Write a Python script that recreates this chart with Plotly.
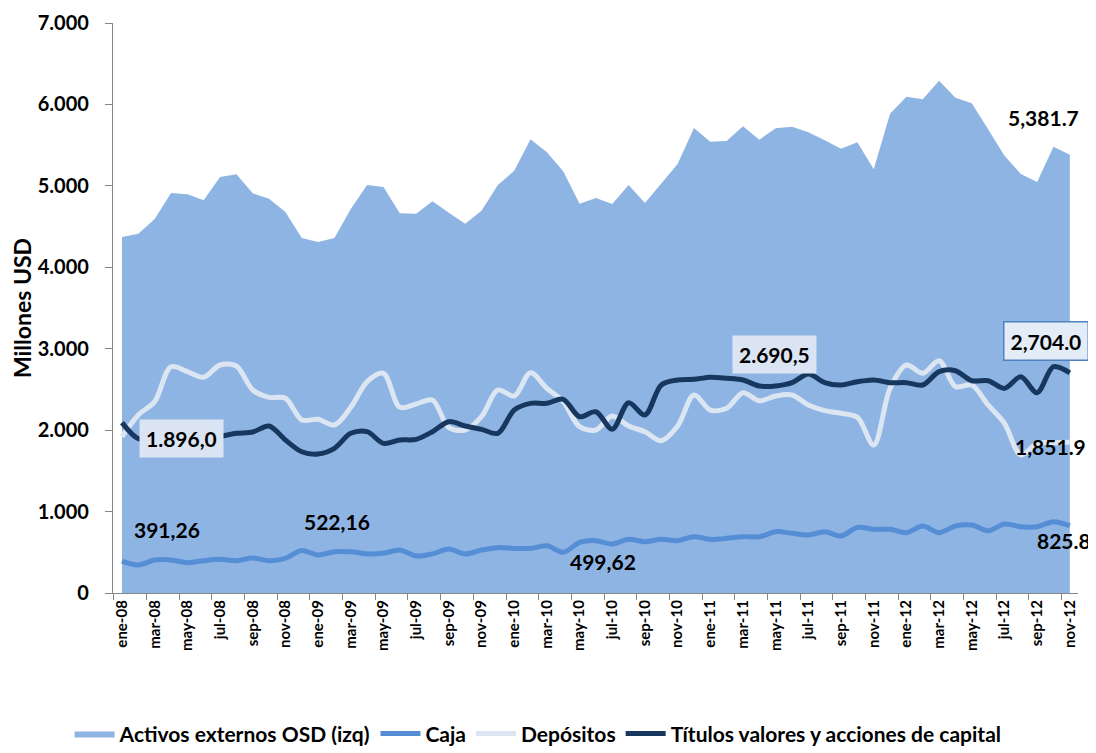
import plotly.graph_objects as go

# ---------------- data ----------------
meses = ["ene", "feb", "mar", "abr", "may", "jun", "jul", "ago", "sep", "oct", "nov", "dic"]
anios = ["08", "09", "10", "11", "12"]
categorias = [f"{m}-{a}" for a in anios for m in meses][:59]   # ene-08 ... nov-12

activos = [4372, 4412, 4593, 4912, 4896, 4822, 5109, 5142, 4909, 4842, 4679, 4360, 4310, 4360, 4716,
           5010, 4986, 4663, 4658, 4812, 4670, 4535, 4695, 5010, 5186, 5571, 5412, 5178, 4781, 4851,
           4777, 5010, 4789, 5031, 5268, 5710, 5543, 5551, 5731, 5567, 5706, 5727, 5657, 5559, 5457,
           5535, 5203, 5886, 6095, 6063, 6292, 6083, 6013, 5694, 5370, 5146, 5047, 5481, 5381.7]

caja = [391.26, 344, 405, 405, 372, 397, 413, 397, 430, 397, 426, 522.16, 467, 507, 507, 479, 487,
        528, 454, 480, 540, 479, 528, 557, 548, 548, 581, 499.62, 623, 643, 602, 659, 630, 659, 643,
        692, 659, 671, 692, 690, 753, 733, 712, 753, 700, 806, 782, 782, 741, 823, 741, 823, 835, 765,
        847, 814, 814, 876, 825.8]

depositos = [1920, 2186, 2350, 2779, 2718, 2649, 2800, 2788, 2493, 2403, 2391, 2125, 2133, 2063, 2280,
             2595, 2698, 2280, 2321, 2370, 2030, 2002, 2165, 2493, 2419, 2705, 2513, 2350, 2043, 2002,
             2174, 2051, 1981, 1871, 2051, 2432, 2247, 2268, 2460, 2360, 2419, 2432, 2309, 2239, 2207,
             2157, 1818, 2513, 2800, 2698, 2853, 2534, 2554, 2309, 2084, 1695, 1838, 1846, 1851.9]

titulos = [2092, 1896.0, 1910, 1900, 1900, 1915, 1925, 1961, 1977, 2051, 1879, 1735, 1707, 1777, 1961,
           1981, 1838, 1879, 1887, 1981, 2104, 2051, 2010, 1961, 2247, 2329, 2329, 2379, 2165, 2226,
           2010, 2337, 2186, 2554, 2616, 2624, 2649, 2637, 2616, 2542, 2542, 2583, 2690.5, 2583, 2554,
           2595, 2616, 2583, 2583, 2554, 2718, 2730, 2607, 2607, 2513, 2656, 2460, 2779, 2704.0]

y_ticks = [0, 1000, 2000, 3000, 4000, 5000, 6000, 7000]
y_ticktext = ["0", "1.000", "2.000", "3.000", "4.000", "5.000", "6.000", "7.000"]

# ---------------- figure ----------------
x = list(range(len(categorias)))
FONT = "Lato"

fig = go.Figure()
fig.add_trace(go.Scatter(x=x, y=activos, name="Activos externos OSD (izq)", mode="lines",
                         fill="tozeroy", fillcolor="#8eb4e3", line=dict(width=0, color="#8eb4e3")))
fig.add_trace(go.Scatter(x=x, y=caja, name="Caja", mode="lines",
                         line=dict(color="#558ed5", width=5, shape="spline", smoothing=0.9)))
fig.add_trace(go.Scatter(x=x, y=depositos, name="Depósitos", mode="lines",
                         line=dict(color="#dce6f2", width=5, shape="spline", smoothing=0.9)))
fig.add_trace(go.Scatter(x=x, y=titulos, name="Títulos valores y acciones de capital", mode="lines",
                         line=dict(color="#17375e", width=5, shape="spline", smoothing=0.9)))

# pixel (reference picture) -> data helpers for label placement
def px_x(p):
    return (p - 122) / 16.34

def px_y(p):
    return (593 - p) / 81.43 * 1000

lbl_font = dict(family=FONT, size=21, color="black", weight="bold")
labels = [
    # (text, x_pix, y_pix, bgcolor, bordercolor)
    ("5,381.7", 1043, 117, None, None),
    ("1.896,0", 181, 438, "#dbe4f2", None),
    ("391,26", 167, 529, None, None),
    ("522,16", 337, 521, None, None),
    ("499,62", 603, 561, None, None),
    ("2.690,5", 774, 354, "#dbe4f2", None),
    ("2,704.0", 1046, 341, "#e4ecf8", "#4f81bd"),
    ("1,851.9", 1050, 446, None, None),
    ("825.8", 1064, 540, None, None),
]
for text, xp, yp, bg, bc in labels:
    ann = dict(x=px_x(xp), y=px_y(yp), xref="x", yref="y", text=text, showarrow=False,
               font=lbl_font, xanchor="center", yanchor="middle")
    if bg:
        ann.update(bgcolor=bg, borderpad=6)
    if bc:
        ann.update(bordercolor=bc, borderwidth=1.5)
    fig.add_annotation(**ann)

# page body has an 8px margin, so the figure is 8px smaller than the window
fig.update_layout(
    width=1088, height=745,
    margin=dict(l=105, r=18, t=15, b=160, autoexpand=False),
    paper_bgcolor="white", plot_bgcolor="white",
    font=dict(family=FONT, color="black"),
    showlegend=True,
    legend=dict(orientation="h", x=-0.045, y=-0.247, xanchor="left", yanchor="middle",
                font=dict(family=FONT, size=21, weight="bold"), itemwidth=40,
                tracegroupgap=0, traceorder="normal"),
)
fig.update_xaxes(
    range=[-0.55, 58.5], tickmode="array",
    tickvals=x[::2], ticktext=categorias[::2], tickangle=-90,
    tickfont=dict(family=FONT, size=15, weight="bold"),
    ticks="", showline=True, linecolor="#868686", linewidth=1.3,
    showgrid=False, zeroline=False, automargin=False,
    minor=dict(tickmode="array", tickvals=[v - 0.5 for v in x[::2]], ticks="outside",
               ticklen=6, tickcolor="#868686", tickwidth=1.3, showgrid=False),
)
fig.update_yaxes(
    range=[0, 7000], tickmode="array", tickvals=y_ticks, ticktext=y_ticktext,
    tickfont=dict(family=FONT, size=20, weight="bold"),
    ticks="outside", ticklen=7, tickcolor="#868686", tickwidth=1.3, ticklabelstandoff=12,
    showline=True, linecolor="#868686", linewidth=1.3, showgrid=False, zeroline=False,
    automargin=False,
    title=dict(text="Millones USD", font=dict(family=FONT, size=23, weight="bold"), standoff=4),
)

fig.write_html("out.html")
